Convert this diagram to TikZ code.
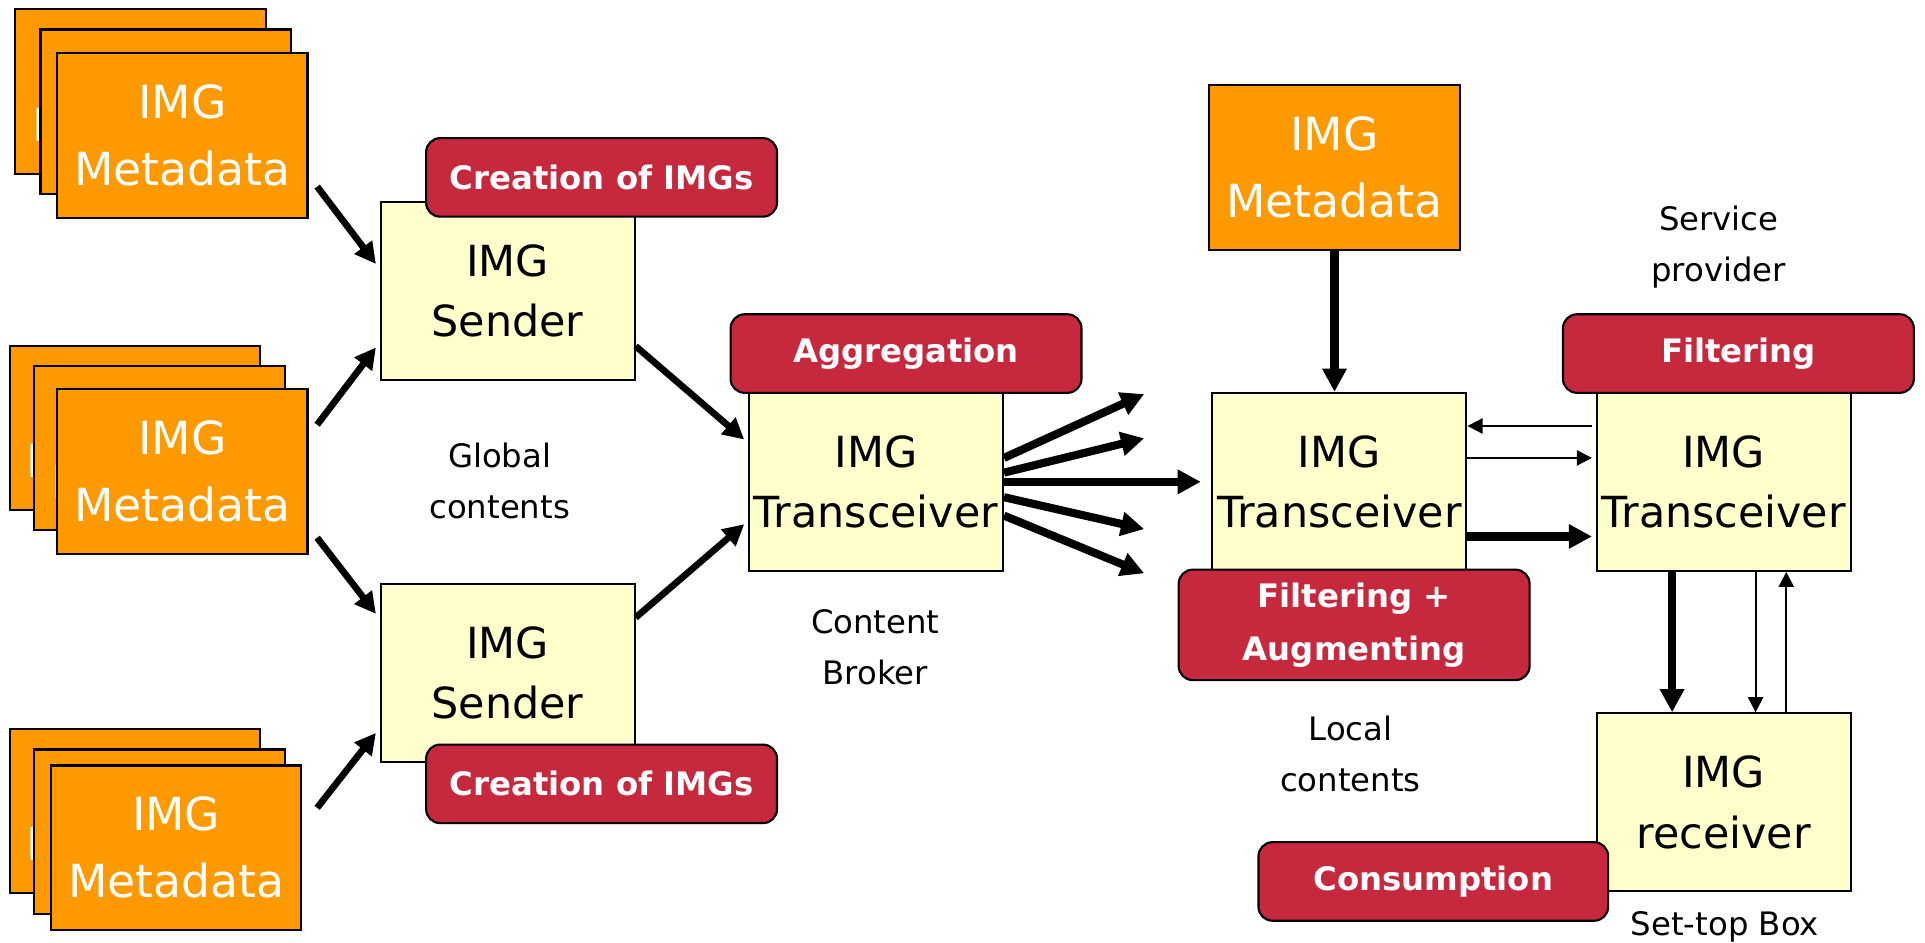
\documentclass[tikz,border=0pt]{standalone}
\usepackage{fontspec}
\setmainfont{DejaVu Sans}
\usetikzlibrary{arrows.meta}
\definecolor{imgorange}{HTML}{FF9900}
\definecolor{imgyellow}{HTML}{FFFFCC}
\definecolor{imgred}{HTML}{C6283D}
\tikzset{
  meta/.style={draw, line width=0.6pt, fill=imgorange, text=white, inner sep=0pt,
    minimum width=2.505cm, minimum height=1.645cm, align=center,
    font=\fontsize{13}{19}\selectfont},
  unit/.style={draw, line width=0.6pt, fill=imgyellow, inner sep=0pt,
    minimum width=2.541cm, minimum height=1.78cm, align=center,
    font=\fontsize{12.2}{17.2}\selectfont},
  task/.style={draw, line width=0.6pt, fill=imgred, text=white, rounded corners=4pt,
    inner sep=0pt, minimum width=3.511cm, minimum height=0.786cm, align=center,
    font=\bfseries\fontsize{9.2}{15}\selectfont},
  note/.style={align=center, font=\fontsize{9.2}{14.6}\selectfont},
  bigarrow/.style={line width=2.3pt, -{Triangle[length=6.6pt,width=6.6pt]}},
  midarrow/.style={line width=1.9pt, -{Triangle[length=6pt,width=6pt]}},
  smallarrow/.style={line width=0.6pt, -{Triangle[length=4.3pt,width=4.3pt]}}
}
\begin{document}
\begin{tikzpicture}[x=0.012277cm,y=-0.012277cm]
        \useasboundingbox (0,0) rectangle (1568,768);
        %% stacked metadata sources
        \node[meta] (m1a) at (114.5,74.5) {IMG\\Metadata};
        \node[meta] (m1b) at (135,91) {IMG\\Metadata};
        \node[meta] (m1c) at (148.5,110.5) {IMG\\Metadata};
        \node[meta] (m2a) at (110,348.5) {IMG\\Metadata};
        \node[meta] (m2b) at (130,365) {IMG\\Metadata};
        \node[meta] (m2c) at (148.5,384) {IMG\\Metadata};
        \node[meta] (m3a) at (110,660.5) {IMG\\Metadata};
        \node[meta] (m3b) at (130,677.5) {IMG\\Metadata};
        \node[meta] (m3c) at (143.5,690.5) {IMG\\Metadata};
        %% senders
        \node[unit] (s1) at (413.5,237) {IMG\\Sender};
        \node[task] (c1) at (490,144.5) {Creation of IMGs};
        \node[unit] (s2) at (413.5,548) {IMG\\Sender};
        \node[task] (c2) at (490,638.5) {Creation of IMGs};
        \node[note] (global) at (407,392) {Global\\contents};
        %% content broker
        \node[unit] (t1) at (713.5,392.5) {IMG\\Transceiver};
        \node[task] (agg) at (738,288) {Aggregation};
        \node[note] (broker) at (713,527) {Content\\Broker};
        %% local contents
        \node[meta] (mr) at (1087,136.5) {IMG\\Metadata};
        \node[unit] (t2) at (1091,392.5) {IMG\\Transceiver};
        \node[task, minimum height=1.105cm] (fa) at (1103,509) {Filtering +\\Augmenting};
        \node[note] (local) at (1100,614) {Local\\contents};
        %% service provider
        \node[note] (provider) at (1400,201) {Service\\provider};
        \node[unit] (t3) at (1404,392.5) {IMG\\Transceiver};
        \node[task] (filt) at (1416,288) {Filtering};
        %% set-top box
        \node[unit] (rx) at (1404,653.5) {IMG\\receiver};
        \node[task, minimum width=3.499cm] (cons) at (1167.5,718) {Consumption};
        \node[note] (stb) at (1405,755) {Set-top Box};
        %% metadata to senders
        \draw[midarrow] ([shift={(7,41.5)}]m1c.east) -- ([shift={(-3,-22)}]s1.west);
        \draw[midarrow] ([shift={(7,-38)}]m2c.east) -- ([shift={(-3,46)}]s1.west);
        \draw[midarrow] ([shift={(7,54)}]m2c.east) -- ([shift={(-3,-48)}]s2.west);
        \draw[midarrow] ([shift={(12,-32.5)}]m3c.east) -- ([shift={(-3,49)}]s2.west);
        %% senders to broker
        \draw[midarrow] ([shift={(0,45)}]s1.east) -- ([shift={(-3,-34.5)}]t1.west);
        \draw[midarrow] ([shift={(0,-45)}]s2.east) -- ([shift={(-3,34.5)}]t1.west);
        %% broker fan out
        \coordinate (f1) at (932,321);
        \coordinate (f2) at (932,357);
        \coordinate (f3) at (932,431);
        \coordinate (f4) at (932,467);
        \draw[bigarrow] ([shift={(0,-19.5)}]t1.east) -- (f1);
        \draw[bigarrow] ([shift={(0,-7.5)}]t1.east) -- (f2);
        \draw[bigarrow] (t1.east) -- ([xshift=-3]t2.west);
        \draw[bigarrow] ([shift={(0,12.5)}]t1.east) -- (f3);
        \draw[bigarrow] ([shift={(0,27.5)}]t1.east) -- (f4);
        %% local metadata
        \draw[bigarrow] (mr.south) -- (mr.south |- t2.north);
        %% transceiver to transceiver
        \draw[smallarrow] ([shift={(-3,-45.5)}]t3.west) -- ([shift={(0,-45.5)}]t2.east);
        \draw[smallarrow] ([shift={(0,-19.5)}]t2.east) -- ([shift={(-3,-19.5)}]t3.west);
        \draw[bigarrow] ([shift={(0,44.5)}]t2.east) -- ([shift={(-3,44.5)}]t3.west);
        %% to the set-top box
        \draw[bigarrow] ([shift={(-42,0)}]t3.south) -- ([shift={(-42,0)}]rx.north);
        \draw[smallarrow] ([shift={(26,0)}]t3.south) -- ([shift={(26,0)}]rx.north);
        \draw[smallarrow] ([shift={(51,0)}]rx.north) -- ([shift={(51,0)}]t3.south);
    \end{tikzpicture}
\end{document}
